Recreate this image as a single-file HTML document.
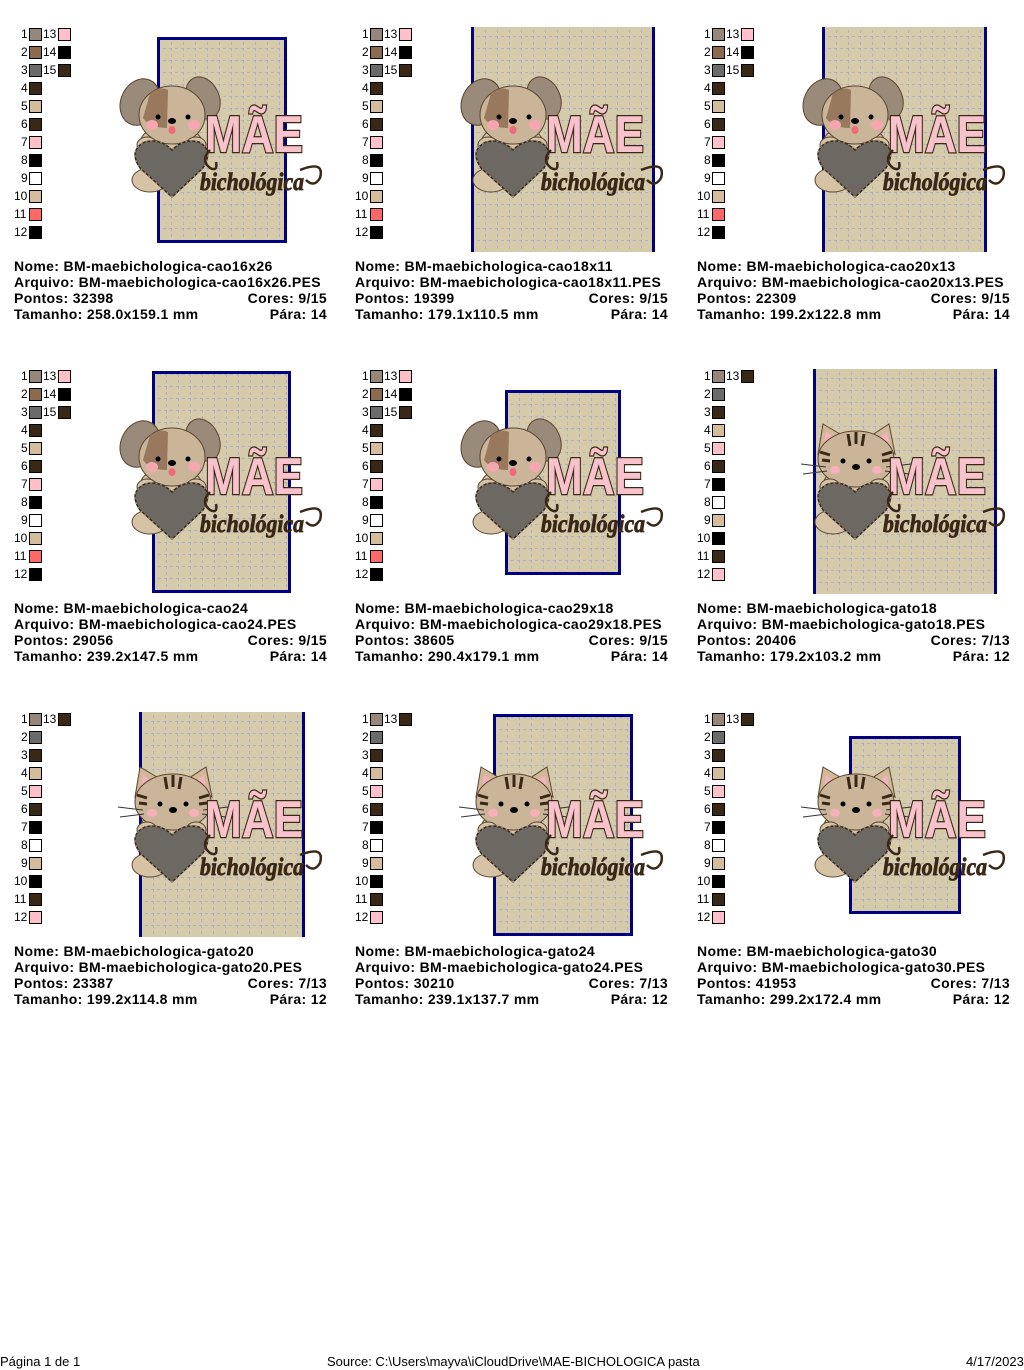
<!DOCTYPE html>
<html><head><meta charset="utf-8"><style>
body{margin:0;width:1024px;height:1370px;background:#fff;position:relative;overflow:hidden;font-family:"Liberation Sans",Arial,sans-serif}
.cell{position:absolute;width:341px;height:342px}
.sw{position:absolute;font-size:12px;line-height:14px;color:#000}
.sw i{position:absolute;width:11px;height:11px;border:1px solid #000;top:1px}
.hoop{position:absolute;background-color:#d5caaa;
background-image:repeating-linear-gradient(0deg,#d5caaa 0 3px,transparent 3px 6px),repeating-linear-gradient(90deg,transparent 0 11px,rgba(140,150,230,.45) 11px 12px),repeating-linear-gradient(90deg,#d5caaa 0 3px,transparent 3px 6px),repeating-linear-gradient(0deg,transparent 0 11px,rgba(140,150,230,.45) 11px 12px);box-sizing:border-box}
.info{position:absolute;left:14px;width:313px;font-weight:bold;font-size:14px;line-height:16px;top:258px;letter-spacing:.35px}
.info div{white-space:nowrap}
.info span{float:right}
svg.d{position:absolute;left:115px;top:72px;overflow:visible}
.foot{position:absolute;top:1354px;font-size:13px;white-space:nowrap}
</style></head><body>

<div class="cell" style="left:0;top:0" data-k="c" data-h="157,37,130,206,1"></div>
<div class="cell" style="left:341px;top:0" data-k="c" data-h="130,27,184,225,0"></div>
<div class="cell" style="left:683px;top:0" data-k="c" data-h="139,27,165,225,0"></div>
<div class="cell" style="left:0;top:342px" data-k="c" data-h="152,29,139,222,1"></div>
<div class="cell" style="left:341px;top:342px" data-k="c" data-h="164,48,116,185,1"></div>
<div class="cell" style="left:683px;top:342px" data-k="g" data-h="130,27,184,225,0"></div>
<div class="cell" style="left:0;top:685px" data-k="g" data-h="139,27,166,225,0"></div>
<div class="cell" style="left:341px;top:685px" data-k="g" data-h="152,29,140,222,1"></div>
<div class="cell" style="left:683px;top:685px" data-k="g" data-h="166,51,112,178,1"></div>

<div class="info" style="left:14px;top:258px"><div>Nome: BM-maebichologica-cao16x26</div><div>Arquivo: BM-maebichologica-cao16x26.PES</div><div>Pontos: 32398<span>Cores: 9/15</span></div><div>Tamanho: 258.0x159.1 mm<span>Pára: 14</span></div></div>
<div class="info" style="left:355px;top:258px"><div>Nome: BM-maebichologica-cao18x11</div><div>Arquivo: BM-maebichologica-cao18x11.PES</div><div>Pontos: 19399<span>Cores: 9/15</span></div><div>Tamanho: 179.1x110.5 mm<span>Pára: 14</span></div></div>
<div class="info" style="left:697px;top:258px"><div>Nome: BM-maebichologica-cao20x13</div><div>Arquivo: BM-maebichologica-cao20x13.PES</div><div>Pontos: 22309<span>Cores: 9/15</span></div><div>Tamanho: 199.2x122.8 mm<span>Pára: 14</span></div></div>
<div class="info" style="left:14px;top:600px"><div>Nome: BM-maebichologica-cao24</div><div>Arquivo: BM-maebichologica-cao24.PES</div><div>Pontos: 29056<span>Cores: 9/15</span></div><div>Tamanho: 239.2x147.5 mm<span>Pára: 14</span></div></div>
<div class="info" style="left:355px;top:600px"><div>Nome: BM-maebichologica-cao29x18</div><div>Arquivo: BM-maebichologica-cao29x18.PES</div><div>Pontos: 38605<span>Cores: 9/15</span></div><div>Tamanho: 290.4x179.1 mm<span>Pára: 14</span></div></div>
<div class="info" style="left:697px;top:600px"><div>Nome: BM-maebichologica-gato18</div><div>Arquivo: BM-maebichologica-gato18.PES</div><div>Pontos: 20406<span>Cores: 7/13</span></div><div>Tamanho: 179.2x103.2 mm<span>Pára: 12</span></div></div>
<div class="info" style="left:14px;top:943px"><div>Nome: BM-maebichologica-gato20</div><div>Arquivo: BM-maebichologica-gato20.PES</div><div>Pontos: 23387<span>Cores: 7/13</span></div><div>Tamanho: 199.2x114.8 mm<span>Pára: 12</span></div></div>
<div class="info" style="left:355px;top:943px"><div>Nome: BM-maebichologica-gato24</div><div>Arquivo: BM-maebichologica-gato24.PES</div><div>Pontos: 30210<span>Cores: 7/13</span></div><div>Tamanho: 239.1x137.7 mm<span>Pára: 12</span></div></div>
<div class="info" style="left:697px;top:943px"><div>Nome: BM-maebichologica-gato30</div><div>Arquivo: BM-maebichologica-gato30.PES</div><div>Pontos: 41953<span>Cores: 7/13</span></div><div>Tamanho: 299.2x172.4 mm<span>Pára: 12</span></div></div>

<div class="foot" style="left:0">Página 1 de 1</div>
<div class="foot" style="left:327px">Source: C:\Users\mayva\iCloudDrive\MAE-BICHOLOGICA pasta</div>
<div class="foot" style="left:966px">4/17/2023</div>

<script>
var D='#3a2817',T='#d4bc9c',P='#ffc0cc',G='#6b6b6b',B='#97877a';
var cao=[B,'#8b6a50',G,D,T,D,P,'#000','#fff',T,'#ff6868','#000',P,'#000',D];
var gato=[B,G,D,T,P,D,'#000','#fff',T,'#000',D,P,D];
function design(cat){
var s='<svg class="d" width="210" height="130" viewBox="115 72 210 130">';
s+='<ellipse cx="150" cy="180" rx="18" ry="12" fill="#d6c2a4" stroke="#5a4530"/>';
s+='<rect x="140" y="130" width="62" height="45" rx="14" fill="#d6c2a4" stroke="#5a4530"/>';
if(!cat){
s+='<ellipse cx="140" cy="102" rx="19" ry="24" fill="#9a8a7a" stroke="#5a4530" transform="rotate(25 140 102)"/>';
s+='<ellipse cx="203" cy="98" rx="16" ry="22" fill="#9a8a7a" stroke="#5a4530" transform="rotate(-25 203 98)"/>';
s+='<ellipse cx="172" cy="115" rx="33" ry="29" fill="#cbb598" stroke="#5a4530"/>';
s+='<path d="M150 93 Q160 86 168 90 L167 128 Q150 128 143 118 Z" fill="#8b6a50" opacity=".8"/>';
s+='<ellipse cx="152" cy="125" rx="6" ry="5" fill="#f6a6b0"/><ellipse cx="194" cy="125" rx="6" ry="5" fill="#f6a6b0"/>';
s+='<circle cx="158" cy="117" r="2.5"/><circle cx="188" cy="117" r="2.5"/><ellipse cx="172" cy="121" rx="4" ry="3"/><ellipse cx="172" cy="130" rx="3.5" ry="4" fill="#f06a7a"/>';
}else{
s+='<path d="M135 112 L140 82 L162 95 Z" fill="#d0b898" stroke="#5a4530"/><path d="M140 108 L143 90 L155 98Z" fill="#f3b2bc"/>';
s+='<path d="M212 112 L206 82 L186 95 Z" fill="#d0b898" stroke="#5a4530"/><path d="M207 108 L204 90 L193 98Z" fill="#f3b2bc"/>';
s+='<ellipse cx="173" cy="117" rx="38" ry="28" fill="#cbb598" stroke="#5a4530"/>';
s+='<path d="M165 92 l2 12 M173 90 l0 12 M181 92 l-2 12 M137 110 l10 3 M139 118 l8 1 M209 110 l-10 3 M207 118 l-8 1" stroke="#3a2817" stroke-width="3"/>';
s+='<path d="M118 122 l25 3 M120 132 l24 -3 M228 122 l-25 3 M226 132 l-24 -3" stroke="#333" stroke-width="1"/>';
s+='<circle cx="160" cy="119" r="2.5"/><circle cx="186" cy="119" r="2.5"/><ellipse cx="173" cy="125" rx="4" ry="3"/>';
s+='<ellipse cx="152" cy="128" rx="5" ry="4" fill="#f6b0ba"/><ellipse cx="194" cy="128" rx="5" ry="4" fill="#f6b0ba"/>';
}
s+='<ellipse cx="147" cy="145" rx="10" ry="8" fill="#d6c2a4" stroke="#5a4530"/><ellipse cx="196" cy="145" rx="10" ry="8" fill="#d6c2a4" stroke="#5a4530"/>';
s+='<path d="M172 197 L140 168 Q128 150 145 142 Q160 138 172 150 Q184 138 199 142 Q214 150 203 168 Z" fill="#6e6863" stroke="#3a2817" stroke-width="1.5"/>';
s+='<path d="M172 197 L140 168 Q128 150 145 142 Q160 138 172 150 Q184 138 199 142 Q214 150 203 168 Z" fill="none" stroke="#9a9a9a" stroke-width="1" stroke-dasharray="2 3"/>';
s+='<text x="254" y="152" text-anchor="middle" font-family="Liberation Sans,sans-serif" font-weight="bold" font-size="52" fill="#f8c2cc" stroke="#3a2817" stroke-width="2.5" paint-order="stroke" textLength="98" lengthAdjust="spacingAndGlyphs">MÃE</text>';
s+='<path d="M210 150 q-10 10 0 18 q8 4 6 -6 M300 170 q25 -10 20 8 q-6 10 -14 2" fill="none" stroke="#3a2817" stroke-width="2.5"/>';
s+='<text x="200" y="190" font-family="Liberation Serif,serif" font-style="italic" font-weight="bold" font-size="25" fill="#3a2817" stroke="#3a2817" stroke-width=".8" textLength="104" lengthAdjust="spacingAndGlyphs">bichológica</text>';
return s+'</svg>';
}
document.querySelectorAll('.cell').forEach(function(c){
var cols=c.dataset.k=='c'?cao:gato,h=c.dataset.h.split(',').map(Number),html='';
var hs='left:'+h[0]+'px;top:'+h[1]+'px;width:'+h[2]+'px;height:'+h[3]+'px;'+(h[4]?'border:3px solid #000080':'border-left:3px solid #000080;border-right:3px solid #000080');
html+='<div class="hoop" style="'+hs+'"></div>';
cols.forEach(function(col,i){
var n=i+1,x,y;
if(n<=12){x=14;y=27+18*i;}else{x=43;y=27+18*(n-13);}
html+='<div class="sw" style="left:'+(n<=12?(x+(n<10?7:0)):x)+'px;top:'+y+'px">'+n+'<i style="left:'+(n<=12?(n<10?8:15):15)+'px;background:'+col+'"></i></div>';
});
html+=design(c.dataset.k=='g');
c.innerHTML=html;
});
</script>
</body></html>
